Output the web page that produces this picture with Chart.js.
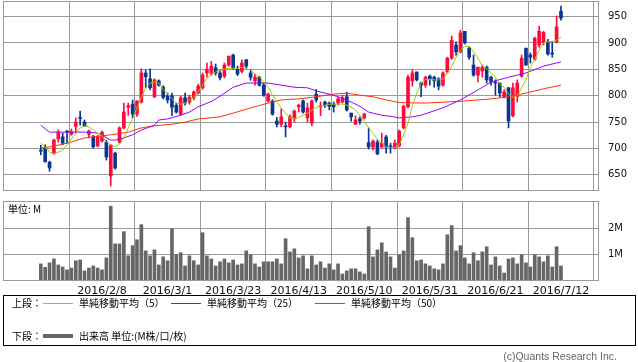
<!DOCTYPE html>
<html lang="ja">
<head>
  <meta charset="UTF-8">
  <title>株価チャート</title>
  <script src="https://cdn.jsdelivr.net/npm/chart.js"></script>
  <style>
    html, body { margin: 0; padding: 0; background: #fff; }
    body { width: 638px; height: 362px; position: relative; overflow: hidden; font-family: "Noto Sans CJK JP", sans-serif; color: #000; }
    #priceChart { position: absolute; left: 0; top: 0; }
    #volChart { position: absolute; left: 0; top: 195px; }
    .abs { position: absolute; white-space: nowrap; line-height: 1; }
    .legend { position: absolute; left: 3px; top: 295px; width: 631px; height: 49px; border: 1px solid #000; }
    .lg { font-size: 10px; }
    .ln { position: absolute; height: 1px; width: 30px; }
    .unit { font-size: 10px; left: 8px; top: 204px; }
    .copy { font-family: "Liberation Sans", sans-serif; font-size: 10.5px; color: #666; right: 21px; top: 351px; }
  </style>
</head>
<body>
  <canvas id="priceChart" width="638" height="192"></canvas>
  <canvas id="volChart" width="638" height="102"></canvas>
  <div class="abs unit">単位: M</div>

  <!-- 凡例 -->
  <div class="legend"></div>
  <div class="abs lg" style="left:12px; top:298px;">上段：</div>
  <div class="ln" style="left:43px; top:303px; background:#99cc00;"></div>
  <div class="abs lg" style="left:79px; top:298px;">単純移動平均（5）</div>
  <div class="ln" style="left:171px; top:303px; background:#9900ff;"></div>
  <div class="abs lg" style="left:207px; top:298px;">単純移動平均（25）</div>
  <div class="ln" style="left:315px; top:303px; background:#ff3300;"></div>
  <div class="abs lg" style="left:351px; top:298px;">単純移動平均（50）</div>
  <div class="abs lg" style="left:12px; top:331px;">下段：</div>
  <div class="ln" style="left:43px; top:334px; height:4px; background:#666;"></div>
  <div class="abs lg" style="left:79px; top:331px;">出来高 単位:(M株/口/枚)</div>

  <div class="abs copy">(c)Quants Research Inc.</div>

  <script>
    // 日足 (2016/1/19 - 2016/7/12)
    const open = [697,702,674,691,718,722,733,727,742,758, 750,727,722,705,714,712,648,691,712,739,
                  778,784,765,788,843,832,798,828,816,800, 800,782,765,796,788,796,805,815,843,843,
                  853,843,837,858,877,850,846,868,843,828, 835,820,790,790,752,746,743,741,756,779,
                  790,758,748,803,779,788,786,784,786,788, 798,767,746,756,758,711,703,712,703,722,
                  705,701,705,739,779,828,845,824,820,837, 835,832,820,845,871,896,883,922,890,858,
                  839,847,854,835,826,824,798,815,762,798, 837,890,877,869,896,900,902,881,902,960];
    const high = [706,707,676,718,735,729,734,737,758,771, 754,735,725,725,733,716,708,693,741,786,
                  786,792,791,851,849,851,832,830,819,805, 805,786,799,805,801,809,822,843,862,865,
                  860,848,862,875,879,856,868,869,849,841, 837,824,805,792,759,775,750,764,773,784,
                  792,786,792,812,788,790,788,788,797,801, 807,767,762,760,767,739,716,716,729,725,
                  710,716,735,782,839,849,845,826,837,839, 837,834,845,873,913,902,924,922,892,877,
                  854,858,856,837,830,824,811,816,824,830, 877,890,881,911,932,922,907,902,951,970];
    const low  = [688,674,657,689,712,707,710,725,729,744, 742,720,701,703,712,678,629,661,710,737,
                  763,758,761,786,815,811,796,818,794,786, 762,767,763,782,784,792,803,812,835,839,
                  839,830,834,856,850,838,843,852,829,820, 818,799,788,763,741,741,722,739,750,769,
                  767,750,743,788,762,778,773,769,782,786, 771,752,745,746,756,699,697,688,701,691,
                  691,699,703,737,777,818,828,798,816,820, 816,811,818,843,869,877,881,898,869,837,
                  826,835,824,820,801,798,796,739,760,788, 835,858,862,867,892,896,877,873,900,943];
    const close = [695,675,663,716,731,710,731,732,750,757, 742,733,703,722,731,684,706,663,739,769,
                   781,765,790,843,836,815,830,820,797,792, 778,769,796,786,797,807,818,839,850,856,
                   843,834,858,875,852,841,862,856,835,835, 820,801,803,765,746,760,741,760,771,782,
                   769,777,790,792,781,782,780,779,794,796, 773,760,754,752,765,703,714,690,710,703,
                   703,710,733,780,835,843,830,820,835,832, 828,818,843,871,905,883,919,900,873,839,
                   854,854,830,826,824,805,807,752,815,824, 871,858,873,909,922,920,879,879,930,947];
    // 出来高 (M)
    const volume = [0.62,0.49,0.66,0.81,0.58,0.50,0.39,0.46,0.74,0.77, 0.35,0.46,0.54,0.46,0.39,0.85,2.84,1.39,1.39,1.86,
                    0.93,1.32,1.55,2.13,1.12,0.93,1.16,0.58,0.89,0.74, 1.97,0.98,1.05,0.54,0.93,0.74,0.58,1.82,0.93,0.81,
                    0.54,0.70,0.81,0.66,0.77,0.58,0.62,1.12,0.97,0.62, 0.50,0.70,0.70,0.70,0.81,0.62,1.59,1.08,1.20,0.85,
                    0.93,0.43,0.93,0.58,0.70,0.46,0.62,0.39,0.62,0.23, 0.35,0.43,0.43,0.31,0.23,2.05,0.89,1.16,1.43,1.08,
                    0.89,0.46,0.97,1.12,2.40,1.63,0.74,0.77,0.62,0.54, 0.43,0.39,0.62,1.74,2.09,1.12,1.32,0.85,0.62,1.05,
                    0.74,1.08,1.28,0.58,0.89,0.54,0.27,0.81,0.85,0.62, 0.97,0.66,0.50,0.97,0.89,0.70,0.93,0.50,1.28,0.54];
    // 移動平均（チャートから読み取り）
    const ma5 = [710,703,693,690,693,697,707,718,729,739, 743,741,735,729,724,712,707,703,708,720,
                 739,757,776,797,815,824,826,824,812,803, 794,786,784,786,792,797,807,820,833,839,
                 845,847,850,852,852,852,854,852,849,841, 835,826,816,801,788,777,767,758,756,759,
                 763,767,773,778,780,782,784,784,784,784, 782,778,773,763,752,739,729,718,710,703,
                 702,702,707,726,748,780,805,824,831,831, 830,830,831,843,856,873,886,894,894,883,
                 871,856,852,843,835,822,816,803,797,799, 815,830,854,869,886,900,902,903,905,911];
    const ma25Idx = [0,2,11,13,16,17,19,21,23,26,27,29,32,34,36,39,41,44,47,52,55,58,61,63,66,68,71,73,75,78,80,82,85,87,92,96,100,103,107,111,115,119];
    const ma25 =    [744,731,731,729,716,716,720,726,735,744,754,756,763,769,779,789,799,816,824,824,820,816,815,809,803,798,788,780,769,763,761,758,760,763,777,792,811,826,835,843,856,864];
    const ma50Idx = [0,2,6,10,14,16,20,23,26,30,33,36,41,44,48,52,55,59,63,67,70,73,76,79,82,88,97,103,107,111,115,119];
    const ma50 =    [701,703,710,720,724,726,731,739,743,746,750,756,760,767,777,786,792,794,798,803,805,801,798,792,787,786,790,794,798,805,813,820];

    // 目盛
    const tickIdx = [14, 29, 44, 59, 74, 89, 104, 119];
    const tickLabels = ['2016/2/8', '2016/3/1', '2016/3/23', '2016/4/13', '2016/5/10', '2016/5/31', '2016/6/21', '2016/7/12'];
    const priceTicks = [650, 700, 750, 800, 850, 900, 950];
    const volTicks = [1, 2];

    const X_MIN = -8.65, X_MAX = 127.47;
    const UP = '#ff0a3c', DOWN = '#0a3593';
    const candleColors = close.map((c, i) => c > open[i] ? UP : DOWN);

    // チャートエリアの枠
    const frame = {
      id: 'frame',
      afterDraw(chart) {
        const { ctx, chartArea: a } = chart;
        ctx.save();
        ctx.strokeStyle = '#999';
        ctx.lineWidth = 1;
        ctx.strokeRect(Math.floor(a.left) + 0.5, Math.floor(a.top) + 0.5, Math.round(a.width), Math.round(a.height));
        ctx.restore();
      }
    };

    const noPad = s => { s.paddingTop = 0; s.paddingBottom = 0; s.paddingLeft = 0; s.paddingRight = 0; };

    const xScale = (showLabels) => ({
      type: 'linear',
      min: X_MIN,
      max: X_MAX,
      offset: false,
      afterBuildTicks: s => { s.ticks = tickIdx.map(v => ({ value: v })); },
      grid: { color: '#999', drawTicks: false },
      border: { display: false },
      ticks: {
        display: showLabels,
        autoSkip: false,
        maxRotation: 0,
        padding: 5,
        color: '#111',
        font: { family: 'DejaVu Sans', size: 11 },
        callback: v => tickLabels[tickIdx.indexOf(v)]
      },
      afterFit: s => { s.height = showLabels ? 17 : 0; noPad(s); }
    });

    const yScale = (min, max, ticks, fmt) => ({
      position: 'right',
      min: min,
      max: max,
      afterBuildTicks: s => { s.ticks = ticks.map(v => ({ value: v })); },
      grid: { color: '#999', drawTicks: false },
      border: { display: false },
      ticks: { padding: 10, color: '#111', font: { family: 'DejaVu Sans', size: 10 }, callback: fmt },
      afterFit: s => { s.width = 40; noPad(s); }
    });

    // 上段：ローソク足と移動平均
    new Chart(document.getElementById('priceChart'), {
      type: 'bar',
      data: {
        datasets: [
          { type: 'line', data: ma5.map((v, i) => ({ x: i, y: v })), borderColor: '#99cc00', borderWidth: 1, pointRadius: 0 },
          { type: 'line', data: ma25.map((v, i) => ({ x: ma25Idx[i], y: v })), borderColor: '#9900ff', borderWidth: 1, pointRadius: 0 },
          { type: 'line', data: ma50.map((v, i) => ({ x: ma50Idx[i], y: v })), borderColor: '#ff3300', borderWidth: 1, pointRadius: 0 },
          { data: open.map((o, i) => ({ x: i, y: [o, close[i]] })), backgroundColor: candleColors, barThickness: 3, grouped: false, minBarLength: 1 },
          { data: low.map((l, i) => ({ x: i, y: [l, high[i]] })), backgroundColor: candleColors, barThickness: 1, grouped: false }
        ]
      },
      options: {
        responsive: false,
        animation: false,
        layout: { autoPadding: false, padding: { left: 3, top: 1, right: 0, bottom: 2 } },
        plugins: { legend: { display: false }, tooltip: { enabled: false } },
        scales: {
          x: xScale(false),
          y: yScale(621.4, 979.4, priceTicks, v => v)
        }
      },
      plugins: [frame]
    });

    // 下段：出来高
    new Chart(document.getElementById('volChart'), {
      type: 'bar',
      data: {
        datasets: [
          { data: volume.map((v, i) => ({ x: i, y: v })), backgroundColor: '#666', barThickness: 3 }
        ]
      },
      options: {
        responsive: false,
        animation: false,
        layout: { autoPadding: false, padding: { left: 3, top: 6, right: 0, bottom: 0 } },
        plugins: { legend: { display: false }, tooltip: { enabled: false } },
        scales: {
          x: xScale(true),
          y: yScale(0, 3.04, volTicks, v => v + 'M')
        }
      },
      plugins: [frame]
    });
  </script>
</body>
</html>
